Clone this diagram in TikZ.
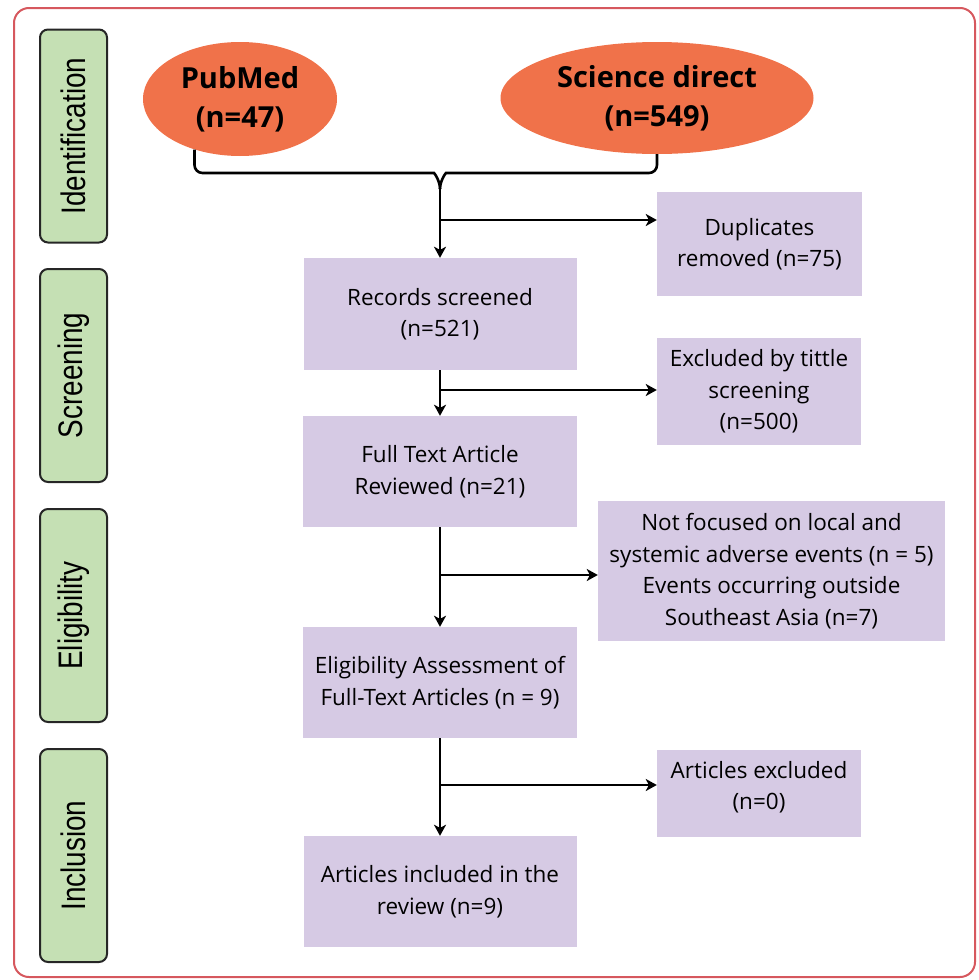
\documentclass[tikz,border=0pt]{standalone}
\usepackage{fontspec}
\setmainfont{Open Sans}
\newfontfamily\stagefont{Liberation Sans}
\usetikzlibrary{shapes.geometric,arrows.meta}
\definecolor{framered}{RGB}{214,88,94}
\definecolor{stagegreen}{RGB}{197,224,180}
\definecolor{srcorange}{RGB}{240,114,74}
\definecolor{boxlav}{RGB}{214,202,228}
\begin{document}
\begin{tikzpicture}[x=1pt,y=-1pt,
  stage/.style={draw=black!85, line width=2pt, fill=stagegreen, rounded corners=8pt,
    rotate=90, minimum width=213pt, minimum height=67pt, inner sep=0pt,
    font=\stagefont\fontsize{34}{34}\selectfont},
  src/.style={ellipse, fill=srcorange, inner sep=0pt, align=center,
    font=\fontsize{29}{39}\selectfont\bfseries},
  box/.style={fill=boxlav, inner sep=0pt, align=center,
    font=\fontsize{22.5}{31.5}\selectfont},
  conn/.style={line width=2.6pt, black},
  arr/.style={conn, -{Stealth[length=11pt,width=12pt,inset=3pt]}}]
\useasboundingbox (0,0) rectangle (978,980);
\draw[framered, line width=2pt, rounded corners=15pt] (14,8) rectangle (975,977);

% stages
\node[stage] (s1) at (73.5,136) {\scalebox{0.82}[1]{Identification}};
\node[stage] (s2) at (73.5,375.5) {\scalebox{0.82}[1]{Screening}};
\node[stage] (s3) at (73.5,615.5) {\scalebox{0.82}[1]{Eligibility}};
\node[stage] (s4) at (73.5,855.5) {\scalebox{0.82}[1]{Inclusion}};

% sources
\node[src, minimum width=194pt, minimum height=114pt] (pm) at (240,99) {PubMed\\(n=47)};
\node[src, minimum width=313pt, minimum height=112pt] (sd) at (657,98) {Science direct\\(n=549)};

% boxes
\node[box, minimum width=273pt, minimum height=112pt] (rs) at (440,314) {Records screened\\(n=521)};
\node[box, minimum width=274pt, minimum height=111pt] (ft) at (440,471.5) {Full Text Article\\Reviewed (n=21)};
\node[box, minimum width=274pt, minimum height=111pt] (ea) at (440,682.5) {Eligibility Assessment of\\Full-Text Articles (n = 9)};
\node[box, minimum width=273pt, minimum height=111pt] (ai) at (440,891.5) {Articles included in the\\review (n=9)};
\node[box, minimum width=205pt, minimum height=104pt] (dup) at (759.5,244) {Duplicates\\removed (n=75)};
\node[box, minimum width=204pt, minimum height=107pt] (ex) at (759,391.5) {Excluded by tittle\\screening\\(n=500)};
\node[box, minimum width=347pt, minimum height=140pt] (nf) at (771.5,571) {Not focused on local and\\systemic adverse events (n = 5)\\Events occurring outside\\Southeast Asia (n=7)};
\node[box, minimum width=204pt, minimum height=87pt] (ae) at (759,793.5) {Articles excluded\\(n=0)\\[-15pt]\mbox{}};

% connectors
\coordinate (merge) at (440,189);
\draw[conn, rounded corners=8pt] (pm.228) |- (426,173) to[out=0,in=90] (merge);
\draw[conn, rounded corners=8pt] (sd.south) |- (454,173) to[out=180,in=90] (merge);
\draw[arr] (merge) -- (rs.north);
\coordinate (j1) at (440,220);
\draw[arr] (j1) -- (j1 -| dup.west);

\draw[arr] (rs.south) -- (ft.north);
\coordinate (j2) at (440,390);
\draw[arr] (j2) -- (j2 -| ex.west);

\draw[arr] (ft.south) -- (ea.north);
\coordinate (j3) at (440,575);
\draw[arr] (j3) -- (j3 -| nf.west);

\draw[arr] (ea.south) -- (ai.north);
\coordinate (j4) at (440,785);
\draw[arr] (j4) -- (j4 -| ae.west);
\end{tikzpicture}
\end{document}
